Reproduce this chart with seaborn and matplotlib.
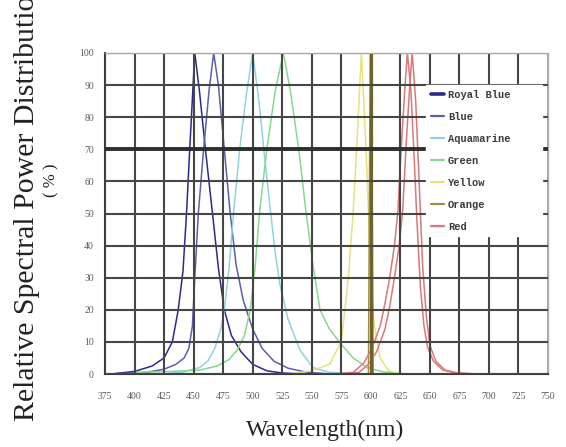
import numpy as np
import pandas as pd
import matplotlib
matplotlib.use("Agg")
import matplotlib.pyplot as plt
import seaborn as sns
from matplotlib.lines import Line2D

# ---------------- data ----------------
series_names = ["Royal Blue", "Blue", "Aquamarine", "Green", "Yellow", "Orange", "Red"]

royal_x = [380, 400, 415, 425, 432, 437, 441, 444, 447, 451, 455, 460, 466, 471, 476, 482, 490, 500, 512, 525, 545]
royal_y = [0, 0.8, 2.5, 5, 10, 20, 32, 50, 72, 100, 88, 70, 50, 33, 20, 12, 7, 3, 1, 0.3, 0]

blue_x = [380, 410, 425, 435, 442, 446, 449, 451, 454, 458, 463, 467, 471, 476, 481, 486, 492, 500, 508, 518, 530, 545, 565]
blue_y = [0, 0.5, 1.5, 3, 5, 8, 15, 30, 50, 68, 88, 100, 90, 70, 50, 34, 23, 14, 8, 4, 1.8, 0.6, 0]

aqua_x = [420, 440, 455, 462, 468, 473, 476, 480, 484, 489, 495, 500, 505, 510, 515, 519, 523, 530, 540, 551, 565, 590]
aqua_y = [0, 0.5, 2, 4, 8, 14, 20, 33, 51, 70, 88, 100, 86, 68, 51, 38, 28, 17, 7.5, 2, 0.5, 0]

green_x = [400, 430, 455, 470, 480, 487, 493, 498, 502, 506, 512, 519, 526, 532, 539, 545, 551, 557, 565, 574, 585, 597, 610, 630]
green_y = [0.5, 0.8, 1.2, 2.5, 4.5, 7.5, 12, 20, 33, 51, 70, 88, 100, 88, 70, 51, 34, 20, 14, 9.7, 5, 2, 0.7, 0]

yellow_x = [530, 550, 565, 575, 581, 585, 588, 592, 596, 598, 600, 603, 608, 615, 625]
yellow_y = [0, 1, 3, 10, 30, 50, 70, 100, 70, 50, 30, 15, 5, 1, 0]

orange_x = [375, 598, 599.5, 600.5, 602, 750]
orange_y = [0, 0, 100, 100, 0, 0]

red_x = [570, 585, 594, 601, 608, 612, 616, 620, 623, 626, 629, 631, 634, 637, 639, 642, 645, 648, 653, 661, 672, 690]
red_y = [0, 0.5, 3.4, 8, 15, 22, 30, 40, 51, 72, 90, 100, 88, 65, 48, 27, 15, 8.4, 4, 1.2, 0.3, 0]

red2_x = [575, 590, 598, 605, 612, 616, 620, 624, 627, 630, 633, 635, 638, 640, 642, 644, 647, 650, 655, 663, 674, 690]
red2_y = [0, 0.5, 3, 7, 14, 21, 30, 40, 51, 72, 90, 100, 85, 68, 50, 33, 18, 9, 4, 1.2, 0.3, 0]

x_ticks = list(range(375, 751, 25))
y_ticks = list(range(0, 101, 10))

palette = {
    "Royal Blue": "#2a2a8c",
    "Blue": "#5a5fae",
    "Aquamarine": "#8fd3de",
    "Green": "#86d98f",
    "Yellow": "#e6e27e",
    "Orange": "#9c8c45",
    "Red": "#d97878",
}

curves = [
    ("Royal Blue", "rb", royal_x, royal_y),
    ("Blue", "b", blue_x, blue_y),
    ("Aquamarine", "aq", aqua_x, aqua_y),
    ("Green", "g", green_x, green_y),
    ("Yellow", "y", yellow_x, yellow_y),
    ("Orange", "o", orange_x, orange_y),
    ("Red", "r1", red_x, red_y),
    ("Red", "r2", red2_x, red2_y),
]
records = []
for name, unit, xs, ys in curves:
    for xv, yv in zip(xs, ys):
        records.append({"series": name, "curve": unit, "wavelength": xv, "power": yv})
df = pd.DataFrame(records)

# ---------------- figure ----------------
sns.set_theme(style="white")
plt.rcParams["font.family"] = ["Liberation Serif", "DejaVu Sans"]

W, H = 566, 447
fig = plt.figure(figsize=(W / 100, H / 100), dpi=100)
ax = fig.add_axes([105 / W, 1 - 374 / H, 443 / W, 321 / H])

sns.lineplot(data=df, x="wavelength", y="power", hue="series", units="curve",
             estimator=None, palette=palette, linewidth=1.1, legend=False, ax=ax)

ax.set_xlim(375, 750)
ax.set_ylim(0, 100)
ax.set_xticks(x_ticks)
ax.set_yticks(y_ticks)
ax.set_xticklabels([str(t) for t in x_ticks])
ax.set_yticklabels([str(t) for t in y_ticks])
ax.set_xlabel("")
ax.set_ylabel("")
ax.tick_params(axis="both", length=0, labelsize=7, labelcolor="#5a5a5a")
ax.tick_params(axis="x", pad=13)
ax.tick_params(axis="y", pad=8)

ax.set_axisbelow(False)
ax.grid(True, color="#464646", linewidth=1.5)
for gl, t in zip(ax.get_xgridlines(), x_ticks):
    if t == 750:
        gl.set_color("#a8a8a8")
    if t == 600:
        gl.set_color("#6f6328")
        gl.set_linewidth(2.3)
for gl, t in zip(ax.get_ygridlines(), y_ticks):
    if t == 100:
        gl.set_color("#a8a8a8")
    if t == 70:
        gl.set_linewidth(2.8)
        gl.set_color("#2e2e2e")

for side in ["left", "bottom"]:
    ax.spines[side].set_color("#3a3a3a")
    ax.spines[side].set_linewidth(1.5)
for side in ["top", "right"]:
    ax.spines[side].set_color("#b0b0b0")
    ax.spines[side].set_linewidth(1.0)

handles = [Line2D([], [], color=palette[n], lw=(2.6 if n == "Royal Blue" else 1.6)) for n in series_names]
leg = ax.legend(handles, series_names, loc="upper left",
                bbox_to_anchor=(0.725, 0.417, 0.262, 0.483), mode="expand",
                frameon=True, fancybox=False, facecolor="white", edgecolor="white",
                framealpha=1.0, borderpad=0.45, labelspacing=1.15,
                handlelength=1.3, handletextpad=0.35, borderaxespad=0.0,
                prop={"family": "Liberation Mono", "size": 7.5, "weight": "bold"})
for t in leg.get_texts():
    t.set_color("#3a3a3a")

fig.text(27 / W, 1 - 421 / H, "Relative Spectral Power Distribution", rotation=90,
         rotation_mode="anchor", ha="left", va="center", fontsize=21.5, color="#222222")
fig.text(51 / W, 1 - 180 / H, "( % )", rotation=90, rotation_mode="anchor",
         ha="center", va="center", fontsize=12, color="#222222")
fig.text(325 / W, 1 - 430 / H, "Wavelength(nm)", ha="center", va="center",
         fontsize=17, color="#222222")

fig.savefig("out.png", dpi=100)
